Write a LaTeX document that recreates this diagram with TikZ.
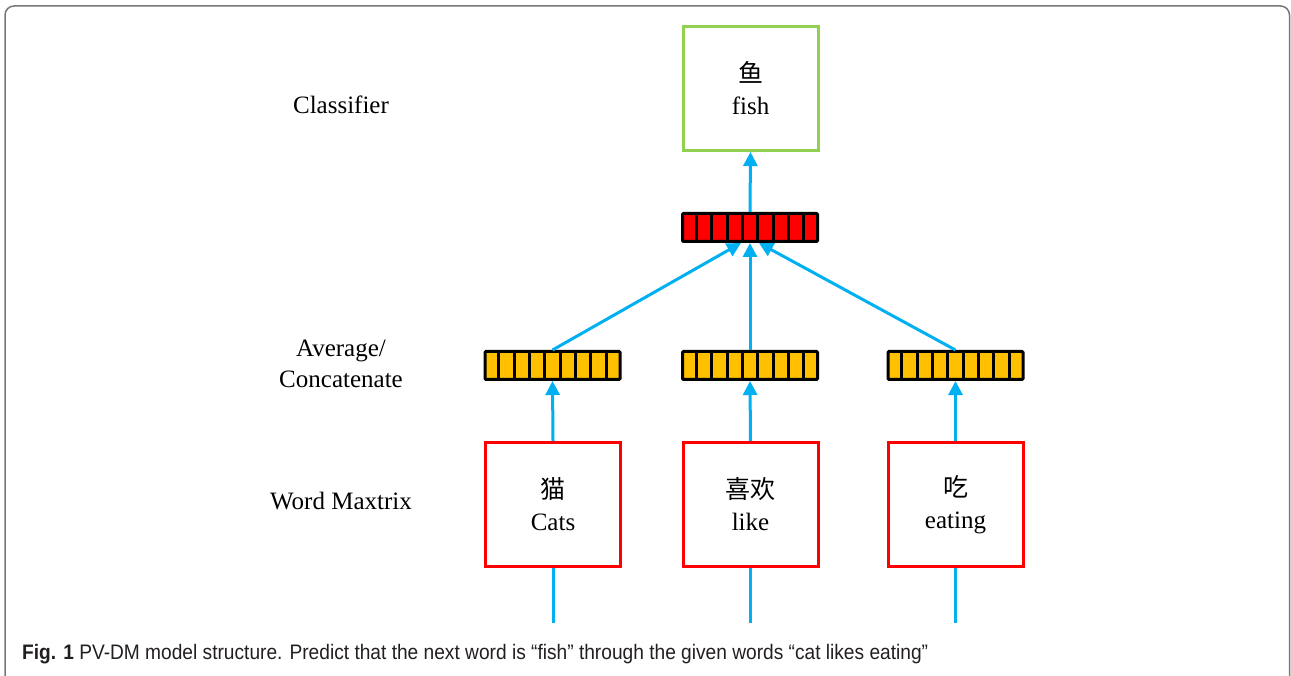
\documentclass[tikz,border=0pt]{standalone}
\usepackage{fontspec}
\setmainfont{Liberation Serif}
\newfontfamily\cjk{Noto Sans CJK SC}
\newfontfamily\capfont{Liberation Sans}
\usetikzlibrary{arrows.meta,calc}
\definecolor{arrc}{RGB}{0,176,240}
\definecolor{vecred}{RGB}{255,0,0}
\definecolor{vecorange}{RGB}{255,192,0}
\definecolor{boxgreen}{RGB}{146,208,80}
\definecolor{framegray}{RGB}{120,120,120}
\definecolor{captext}{RGB}{35,31,32}
\tikzset{
  vecbox/.style={draw=black, line width=3pt, minimum width=135pt, minimum height=28pt, inner sep=0pt, rounded corners=1pt},
  wordbox/.style={draw=vecred, line width=3pt, minimum width=135pt, minimum height=124pt, inner sep=0pt, align=center, font=\fontsize{25}{32}\selectfont},
  clsbox/.style={wordbox, draw=boxgreen},
  lbl/.style={align=center, inner sep=0pt, font=\fontsize{25}{31}\selectfont},
  arr/.style={draw=arrc, line width=3pt, -{Triangle[width=14pt,length=14pt]}},
  plainline/.style={draw=arrc, line width=3pt},
}
\newcommand{\cells}[1]{%
  \foreach \k in {1,...,8}{
    \draw[black, line width=3pt] ($(#1.north west)!\k/9!(#1.north east)$) -- ($(#1.south west)!\k/9!(#1.south east)$);
  }}
\begin{document}
\begin{tikzpicture}[x=1pt,y=-1pt]
\useasboundingbox (0,0) rectangle (1291,676);
\clip (0,0) rectangle (1291,676);
\draw[framegray, line width=1.5pt, rounded corners=9pt] (5,6) rectangle (1289.5,720);

% labels
\node[lbl] (lcls) at (341,105) {Classifier};
\node[lbl] (lavg) at (341,364) {Average/\\Concatenate};
\node[lbl] (lwm) at (341,501) {Word Maxtrix};

% classifier box
\node[clsbox] (gb) at (750.5,88.5) {{\cjk 鱼}\\fish};

% red vector
\node[vecbox, fill=vecred] (rv) at (750,227.5) {};
\cells{rv}

% orange vectors
\node[vecbox, fill=vecorange] (ov1) at (552.5,365.5) {};
\node[vecbox, fill=vecorange] (ov2) at (750,365.5) {};
\node[vecbox, fill=vecorange] (ov3) at (955.5,365.5) {};
\cells{ov1}
\cells{ov2}
\cells{ov3}

% word boxes
\node[wordbox] (wb1) at (553,504.5) {{\cjk 猫}\\Cats};
\node[wordbox] (wb2) at (750.5,504.5) {{\cjk 喜欢}\\like};
\node[wordbox] (wb3) at (955.5,504.5) {{\cjk 吃}\\eating};

% inputs
\coordinate (in1) at (553,623);
\coordinate (in2) at (750.5,623);
\coordinate (in3) at (955.5,623);
\draw[plainline] (in1) -- (wb1.south);
\draw[plainline] (in2) -- (wb2.south);
\draw[plainline] (in3) -- (wb3.south);

% arrows
\draw[arr] (wb1.north) -- (ov1.south);
\draw[arr] (wb2.north) -- (ov2.south);
\draw[arr] (wb3.north) -- (ov3.south);
\draw[arr] (ov1.north) -- ([xshift=-9pt]rv.south);
\draw[arr] (ov2.north) -- (rv.south);
\draw[arr] (ov3.north) -- ([xshift=9pt]rv.south);
\draw[arr] (rv.north) -- (gb.south);

% caption
\node[anchor=base west, inner sep=0pt, text=captext] (cap) at (22,659)
  {\resizebox{906pt}{\height}{\capfont\fontsize{21}{24}\selectfont\textbf{Fig. 1} PV-DM model structure. Predict that the next word is “fish” through the given words “cat likes eating”}};
\end{tikzpicture}
\end{document}
